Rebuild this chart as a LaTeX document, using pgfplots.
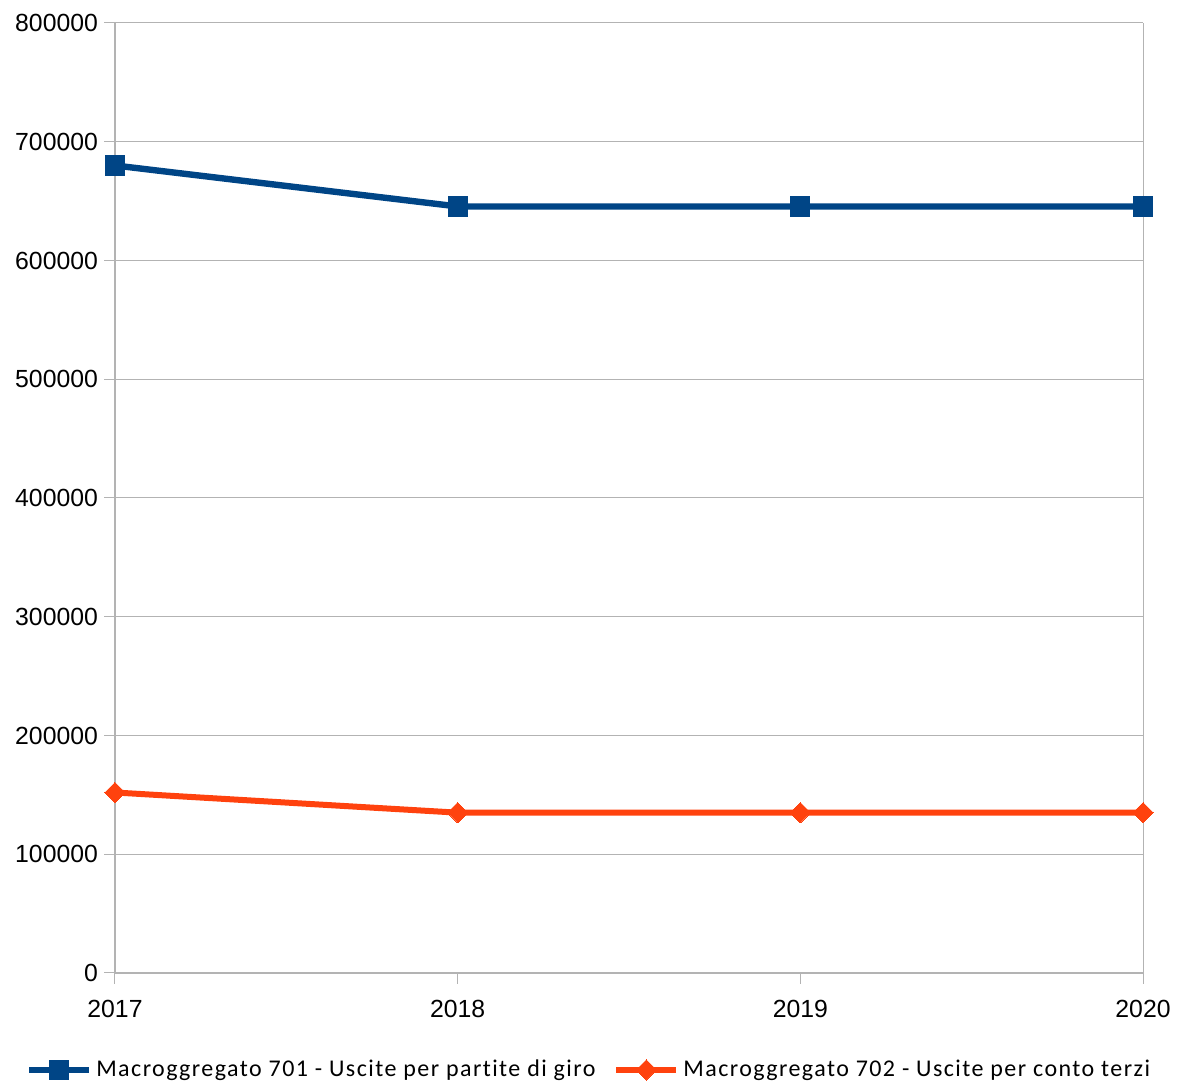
\documentclass[border=0pt]{standalone}
\usepackage{fontspec}
\setmainfont{Liberation Sans}
\newfontfamily\carlito[LetterSpace=6,Ligatures=NoCommon]{Carlito}
\usepackage{pgfplots}
\pgfplotsset{compat=1.18}
\definecolor{lblue}{HTML}{004586}
\definecolor{lorange}{HTML}{FF420E}
\definecolor{gridc}{HTML}{B3B3B3}
\begin{document}
\begin{tikzpicture}
\begin{axis}[
  at={(57.5pt,56pt)}, anchor=south west,
  scale only axis, width=514pt, height=475pt,
  xmin=2017, xmax=2020, ymin=0, ymax=800000,
  xtick={2017,2018,2019,2020},
  ytick={0,100000,...,800000},
  xticklabel style={/pgf/number format/1000 sep=},
  yticklabel style={/pgf/number format/1000 sep=, /pgf/number format/fixed},
  scaled y ticks=false,
  /pgf/number format/assume math mode=true,
  ticklabel style={font=\fontsize{12.4}{14}\selectfont},
  ymajorgrids=true, xmajorgrids=false,
  major grid style={gridc, line width=0.5pt},
  extra x ticks={2020}, extra x tick labels={},
  extra x tick style={xmajorgrids=true, major tick length=0pt},
  axis line style={gridc, line width=0.6pt},
  axis x line*=bottom, axis y line*=left,
  tick style={gridc, line width=0.5pt},
  tick align=outside, major tick length=5.5pt,
  xtick pos=bottom, ytick pos=left,
  xticklabel shift=4.5pt, yticklabel shift=-0.5pt,
  legend style={at={(0.462,-0.102)}, anchor=center, draw=none,
    font=\carlito\fontsize{12}{14}\selectfont, legend columns=2,
    /tikz/every odd column/.append style={column sep=0pt},
    /tikz/every even column/.append style={column sep=7pt}},
  legend image code/.code={
    \draw[#1, mark repeat=2, mark phase=2] plot coordinates {(0pt,0pt) (15pt,0pt) (30pt,0pt)};},
]
\addplot[lblue, line width=3.2pt, mark=square*, mark size=4.8pt, mark options={solid, line width=0pt}]
  coordinates {(2017,680000) (2018,645500) (2019,645500) (2020,645500)};
\addlegendentry{Macroggregato 701 - Uscite per partite di giro}
\addplot[lorange, line width=3pt, mark=square*, mark size=3.6pt, mark options={solid, rotate=45, line width=0pt}]
  coordinates {(2017,152000) (2018,135000) (2019,135000) (2020,135000)};
\addlegendentry{Macroggregato 702 - Uscite per conto terzi}
\end{axis}
\pgfresetboundingbox
\path (0,0) rectangle (589pt,542.5pt);
\end{tikzpicture}
\end{document}
